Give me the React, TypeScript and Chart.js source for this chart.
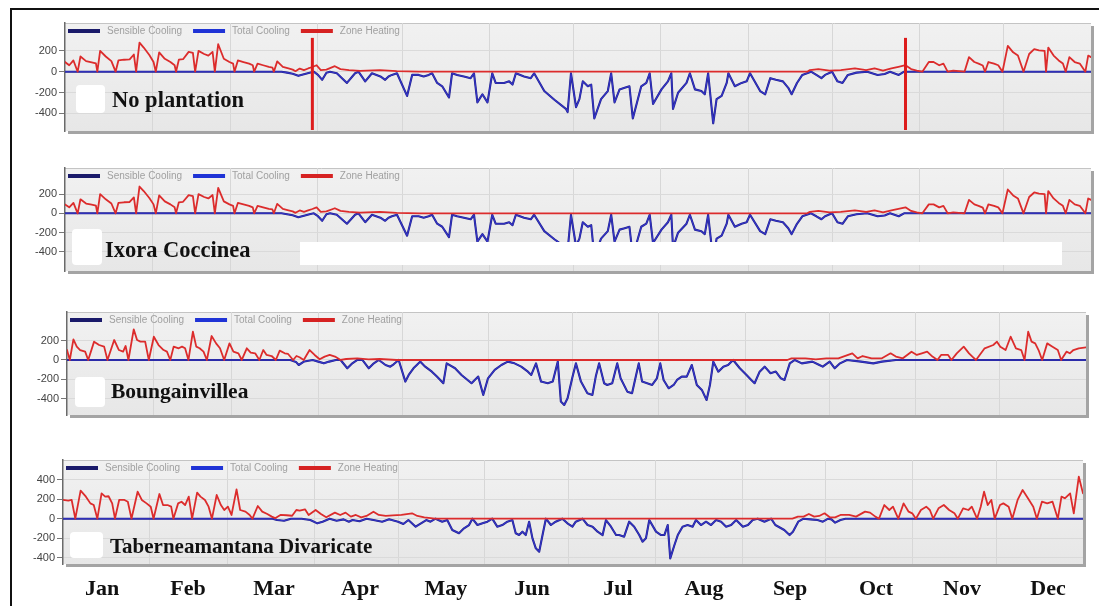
import React, { useEffect, useRef } from "react";
import { Chart, registerables } from "chart.js";

Chart.register(...registerables);

type Pt = [number, number];

// ---------- labels / ticks ----------
const months = ["Jan", "Feb", "Mar", "Apr", "May", "Jun", "Jul", "Aug", "Sep", "Oct", "Nov", "Dec"];
const monthStartDays = [31, 59, 90, 120, 151, 181, 212, 243, 273, 304, 334];
const seriesNames = ["Sensible Cooling", "Total Cooling", "Zone Heating"];
const yTicksSmall = [-400, -200, 0, 200];
const yTicksLarge = [-400, -200, 0, 200, 400];
const dstMarkerDays = [88, 299];
const dstMarkerTop = 325;
const panelTitles = ["No plantation", "Ixora Coccinea", "Boungainvillea", "Taberneamantana Divaricate"];

// ---------- data: [day of year, kWh] ----------
const noPlantationHeating: Pt[] = [
  [0, 93], [1.5, 62], [3, 108], [4.5, 0], [5.5, 146], [7.5, 102], [9.5, 90], [11, 80], [11.5, 0],
  [12.5, 200], [14.5, 146], [16.5, 102], [18, 0], [19, 108], [21, 115], [23, 118], [24.5, 165], [25.3, 0],
  [26.5, 279], [28, 232], [30, 160], [31.5, 93], [32.3, 0], [33.5, 186], [35.5, 124], [37.5, 93], [39, 62], [39.5, 0],
  [40.5, 115], [42, 120], [44, 190], [45.5, 180], [46.3, 0], [47.5, 200], [49.5, 170], [51, 155], [52.5, 190], [53.3, 0],
  [54.5, 264], [56.5, 124], [58.5, 93], [59.8, 78], [60.3, 0], [61.5, 108], [63.5, 93], [65.5, 78], [66.8, 62], [67.3, 0],
  [68.5, 78], [70.5, 62], [72.5, 46], [73.8, 40], [74.3, 0], [75.5, 99], [77.5, 46], [79.5, 31], [81, 20], [82, 5],
  [83.5, 30], [85, 15], [86.5, 31], [88, 45], [89.5, 62], [91, 15], [93, 20], [96, 53], [98, 25], [101, 15],
  [105, 8], [112, 15], [118, 5], [126, 0], [264, 0], [265, 15], [268, 25], [272, 10], [276, 15], [281, 31],
  [285, 15], [288, 31], [291, 10], [294, 31], [296.5, 46], [299, 62], [301, 25], [303, 10], [305, 0],
  [307.3, 93], [309, 93], [311, 62], [312.5, 78], [314, 0], [316, 10], [318, 5], [320, 0],
  [321.6, 140], [323.5, 93], [325, 78], [326.5, 60], [327.3, 0], [328.5, 93], [330.5, 78], [332, 62], [333.5, 0],
  [335.4, 248], [337.3, 186], [339, 155], [341, 0], [343, 170], [344.8, 217], [346.5, 205], [348.5, 200], [349, 0],
  [349.8, 232], [351.7, 155], [353.5, 108], [355, 78], [356, 0], [357.3, 140], [359.2, 93], [361, 78], [363, 0],
  [364, 155], [365, 140],
];
const noPlantationTotalCooling: Pt[] = [
  [0, 0], [77, 0], [79, -9], [81, -20], [83, -40], [85, -25], [87, -10], [88.5, 0], [90, -30], [91.5, -78],
  [93, -10], [94.3, 0], [96.7, -15], [100.3, -108], [103.2, -15], [104.4, 0], [106.8, -93], [109.2, -15],
  [112.2, -46], [113.9, -78], [115.1, -46], [116.3, -31], [118.1, -15], [121.7, -233], [123.5, -31], [125.8, -31],
  [127.6, -46], [129.4, -31], [130.6, -15], [132.4, -108], [134.2, -140], [136.6, -248], [137.7, -15], [139.5, -31],
  [141.9, -46], [144.3, -62], [145.5, -15], [146.7, -295], [148.5, -217], [150.3, -295], [152, -15], [153.2, -108],
  [156.2, -108], [158, -93], [159.2, -124], [160.4, -15], [163.3, -46], [165.7, -62], [166.9, -15], [170.5, -186],
  [174.1, -270], [178.2, -357], [178.8, -388], [180, -15], [181.8, -341], [183, -264], [184.2, -93], [186, -140],
  [187.2, -124], [188.3, -450], [190.7, -264], [193.1, -186], [194.3, -15], [195.5, -295], [197.3, -170],
  [199.1, -155], [200.8, -140], [202, -450], [205, -140], [206.8, -108], [208, -15], [209.2, -310], [212.2, -170],
  [214.5, -93], [215.7, -15], [216.3, -357], [218.1, -202], [221.1, -108], [222.3, -15], [224.1, -170],
  [226.4, -186], [227.6, -217], [228.8, -15], [230.6, -496], [231.8, -264], [233.6, -233], [235.4, -108],
  [236, -15], [238.3, -140], [240.7, -108], [242.5, -93], [243.7, -15], [247.3, -186], [249.1, -217],
  [250.9, -62], [252.9, -78], [255.4, -93], [257.3, -155], [258.5, -217], [260.4, -109], [262.3, -31],
  [265.4, 0], [267.3, -31], [269.1, -62], [270.4, -31], [272.9, 0], [274.8, -93], [276.6, -109], [278.5, -31],
  [281.6, -9], [285.4, 0], [289.1, -31], [291.6, -22], [293.5, 0], [296.6, -31], [298.5, 0], [365, 0],
];
// sensible and total cooling lines lie on top of each other in the picture
const noPlantationSensibleCooling: Pt[] = noPlantationTotalCooling;

// Ixora Coccinea panel reads identically to the first one
const ixoraHeating: Pt[] = noPlantationHeating;
const ixoraTotalCooling: Pt[] = noPlantationTotalCooling;
const ixoraSensibleCooling: Pt[] = noPlantationTotalCooling;

const bougainvilleaHeating: Pt[] = [
  [0, 103], [1, 0], [2.3, 214], [3.5, 138], [4.7, 103], [6.5, 86], [7.6, 0], [9.7, 190], [11.5, 155], [13.3, 138],
  [14.5, 0], [16.9, 207], [18.6, 103], [20.1, 86], [21, 145], [22, 0], [23.9, 317], [25.1, 207], [26.3, 190],
  [28, 190], [29.3, 0], [31.1, 241], [32.8, 155], [34.6, 103], [35.8, 86], [37, 0], [38.2, 138], [40, 121],
  [41.2, 138], [42.3, 121], [43.5, 0], [45.1, 293], [46.3, 138], [47.5, 121], [48.9, 86], [50.1, 0], [51.8, 248],
  [53.4, 172], [54.8, 121], [56.3, 0], [58.2, 172], [59.6, 86], [61.4, 69], [62.6, 0], [64.4, 121], [65.8, 76],
  [67.4, 69], [68.9, 0], [70.3, 103], [71.5, 52], [73.3, 41], [74.8, 0], [76.2, 97], [78, 69], [79.2, 62], [81, 0],
  [82.2, 41], [83.3, 28], [84.8, 0], [86.9, 103], [88.7, 52], [90.5, 7], [92.3, 35], [94.1, 52], [96, 35], [98, 0],
  [100, 10], [104, 17], [108, 7], [112, 10], [118, 0], [258, 0], [259.5, 17], [264.5, 17], [268.2, 7], [272, 17],
  [276.3, 17], [281.3, 69], [283.2, 17], [285, 41], [288.2, 17], [291.9, 17], [295, 69], [296.9, 35], [299.4, 17],
  [302.5, 86], [304.4, 52], [306.2, 69], [308.1, 86], [310, 35], [311.8, 0], [313.1, 52], [315.6, 52], [316.8, 0],
  [318.7, 69], [321.2, 138], [323.1, 69], [324.3, 35], [325.6, 0], [328.7, 121], [331.8, 155], [333.1, 190],
  [334.3, 138], [336.2, 103], [338, 241], [339.9, 121], [341.8, 103], [343, 0], [344.3, 293], [345.5, 190],
  [346.8, 172], [348, 103], [349.3, 0], [351.1, 172], [353, 138], [354.9, 103], [356.1, 0], [358, 86],
  [359.2, 69], [360.5, 103], [362.4, 121], [365, 130],
];
const bougainvilleaTotalCooling: Pt[] = [
  [0, 0], [80, 0], [82, -20], [83, -52], [85, -15], [88, 0], [90, -17], [92, -35], [93.9, -17], [96.3, 0],
  [98, 0], [100.4, -86], [102.2, -35], [104, 0], [105.8, 0], [108.1, -86], [109.9, -35], [111.7, 0], [114.1, -52],
  [115.8, -69], [117, -45], [118.8, 0], [121.2, -224], [122.4, -155], [124.1, -86], [125.3, -52], [126.5, -17],
  [128.3, -69], [130.7, -121], [132.5, -172], [134.8, -241], [136, -35], [139, -86], [141.3, -155], [144.9, -241],
  [147.3, -172], [149.1, -362], [150.8, -190], [153.2, -103], [155.6, -52], [157.9, -17], [160.3, -35],
  [162.7, -69], [165.1, -121], [166.3, -155], [168, -35], [169.8, -224], [172.2, -241], [174, -224], [175.8, -17],
  [176.9, -431], [178.1, -466], [179.3, -397], [181.1, -172], [182.3, -35], [184.1, -224], [186.4, -345],
  [188.2, -362], [189.4, -172], [190.6, -35], [192.4, -241], [193.5, -259], [195.3, -241], [197.1, -35],
  [198.3, -190], [200.7, -328], [202.4, -345], [203.6, -190], [204.8, -35], [206, -224], [207.8, -241],
  [209.6, -259], [211.3, -190], [212.5, -35], [213.7, -207], [215.5, -293], [217.3, -259], [218.5, -207],
  [220.2, -172], [222, -172], [223.8, -52], [225.6, -259], [227.4, -310], [229.1, -414], [230.3, -259],
  [231.5, -17], [233.3, -121], [235.1, -69], [236.8, -52], [238.6, 0], [241, -86], [243.4, -155], [245.1, -207],
  [246.3, -241], [248.1, -121], [249.9, -69], [252, -138], [253.9, -120], [255.7, -190], [257, -207],
  [258.9, -35], [260.7, 0], [263.2, -35], [267, -17], [269.5, -52], [270.7, -69], [273.2, -17], [275, -86],
  [276.9, -35], [279.4, 0], [284.4, -17], [288.8, -35], [291.9, -17], [296.9, 0], [365, 0],
];
const bougainvilleaSensibleCooling: Pt[] = bougainvilleaTotalCooling;

const taberneHeating: Pt[] = [
  [0, 192], [1.9, 185], [3.1, 192], [4.4, 0], [6.3, 287], [8.2, 226], [9.8, 157], [11, 140], [12.3, 0],
  [13.8, 260], [15.1, 226], [16.3, 230], [17.6, 157], [18.6, 0], [20.1, 192], [22, 192], [23.2, 174], [24.5, 0],
  [26.7, 277], [28.2, 192], [29.9, 157], [31.4, 123], [32.4, 0], [34.5, 253], [35.8, 140], [37.4, 140],
  [38.7, 123], [39.5, 0], [41.2, 157], [42.4, 174], [43.7, 140], [45, 226], [46.2, 0], [48, 267], [49.2, 226],
  [50.8, 192], [52.1, 123], [53.3, 0], [55, 243], [56.5, 140], [57.7, 89], [59, 123], [60.3, 38], [62.1, 301],
  [63.4, 89], [65.3, 72], [66.8, 38], [67.8, 0], [69.7, 130], [71.3, 72], [73.1, 48], [74.7, 21], [75.9, 5],
  [77.8, 38], [80, 35], [82, 30], [83.5, 89], [84.7, 82], [86.6, 96], [87.9, 38], [90.4, 89], [92.3, 48],
  [94.2, 14], [97.3, 62], [99.2, 38], [101.1, 62], [103, 21], [104.8, 38], [106.7, 14], [108.6, 28], [111.1, 72],
  [113, 38], [115.5, 28], [118, 34], [121.1, 38], [124.9, 55], [126.8, 28], [129.3, 14], [133.1, 0], [261, 0],
  [263, 21], [265, 21], [266.9, 48], [268.8, 21], [270.6, 28], [272.5, 55], [274.4, 14], [276.3, 14], [278.2, 38],
  [281.3, 38], [283.8, 21], [287, 72], [288.8, 62], [290.7, 21], [292, 0], [293.9, 140], [295.7, 89], [297, 123],
  [298.9, 0], [300.8, 157], [302.6, 72], [303.9, 55], [305.2, 0], [307, 89], [308.9, 123], [310.2, 89], [311.4, 0],
  [313.3, 106], [315.2, 140], [317.1, 89], [319, 55], [320.2, 0], [322.1, 106], [324, 89], [325.2, 123],
  [327.1, 0], [328.4, 123], [329.6, 277], [330.9, 140], [332.2, 192], [333.4, 0], [335.3, 140], [336.5, 157],
  [338.4, 123], [339.7, 0], [341.6, 192], [343.4, 294], [345.3, 209], [347.2, 123], [348.5, 0], [350.3, 174],
  [352.2, 157], [354.1, 174], [356, 0], [357.3, 226], [358.5, 209], [360.4, 260], [361.7, 55], [363.5, 431],
  [365, 260],
];
const taberneTotalCooling: Pt[] = [
  [0, 0], [75, 0], [76.6, -14], [79.1, -21], [81.6, 0], [85.4, 0], [88.5, -14], [91, -48], [92.9, -31], [95.4, 0],
  [97.9, -21], [100.4, -7], [102.3, -31], [103.6, -14], [106.1, -27], [108.6, 0], [111.1, -14], [114.2, -31],
  [116.7, -7], [119.9, -31], [121.8, -55], [123.6, -14], [126.2, -82], [128.1, -48], [130, -14], [131.5, -31],
  [133.3, 0], [135.7, -31], [137.5, -14], [139.3, -116], [141.7, -150], [143.5, -99], [145.3, -65], [146.5, 0],
  [148.3, -65], [150.1, -48], [151.9, -31], [153.6, 0], [155.4, -82], [157.2, -65], [159, -31], [160.8, -14],
  [162, -150], [163.2, -168], [164.4, -133], [165.6, -168], [166.8, -31], [168, -202], [169.2, -304],
  [170.4, -339], [171.6, -168], [172.8, 0], [174.6, -65], [176.3, -31], [178.7, 0], [180.5, -48], [182.3, -82],
  [183.5, -31], [185.9, 0], [187.7, -65], [189.5, -82], [191.3, -133], [193.1, -168], [194.3, -14], [196.1, -82],
  [197.9, -168], [199, -168], [200.8, -185], [202.6, -31], [204.4, -82], [206.2, -168], [207.4, -236],
  [208.6, -202], [209.8, -14], [212.2, -133], [214, -168], [215.2, -168], [216.4, -65], [217.3, -407],
  [218.8, -270], [220, -168], [221.7, -82], [223.5, -65], [225.3, -82], [226.5, -14], [228.3, -65], [230.1, -31],
  [231.9, -65], [233.7, -14], [235.5, -31], [237.3, -82], [239.1, -65], [240.9, -14], [243.3, -82], [245.1, -65],
  [246.8, -14], [248.6, 0], [251, -31], [253.4, 0], [254.9, -65], [258.1, -116], [260, -168], [261.2, -133],
  [263.1, -31], [265, 0], [267.5, -7], [270, -14], [271.9, -31], [273.8, 0], [275, -7], [276.3, -41],
  [278.2, -14], [280, 0], [365, 0],
];
const taberneSensibleCooling: Pt[] = taberneTotalCooling;

// ---------- layout (pixels) ----------
type PanelCfg = {
  title: string;
  top: number; bottom: number; left: number; right: number;
  yMin: number; yMax: number; ticks: number[];
  heating: Pt[]; total: Pt[]; sensible: Pt[];
  markers: number[];
  labelLeft: number; labelCenter: number; labelSize: number;
  patch: { x: number; y: number; w: number; h: number };
  band?: { x: number; y: number; w: number; h: number };
};

const panels: PanelCfg[] = [
  {
    title: panelTitles[0], top: 23, bottom: 131, left: 65, right: 1091, yMin: -570, yMax: 468, ticks: yTicksSmall,
    heating: noPlantationHeating, total: noPlantationTotalCooling, sensible: noPlantationSensibleCooling,
    markers: dstMarkerDays, labelLeft: 112, labelCenter: 99, labelSize: 22.5, patch: { x: 76, y: 85, w: 29, h: 28 },
  },
  {
    title: panelTitles[1], top: 168, bottom: 271, left: 65, right: 1091, yMin: -601, yMax: 472, ticks: yTicksSmall,
    heating: ixoraHeating, total: ixoraTotalCooling, sensible: ixoraSensibleCooling,
    markers: [], labelLeft: 105, labelCenter: 249, labelSize: 22.5, patch: { x: 72, y: 229, w: 30, h: 36 },
    band: { x: 300, y: 242, w: 762, h: 23 },
  },
  {
    title: panelTitles[2], top: 312, bottom: 415, left: 67, right: 1086, yMin: -570, yMax: 497, ticks: yTicksSmall,
    heating: bougainvilleaHeating, total: bougainvilleaTotalCooling, sensible: bougainvilleaSensibleCooling,
    markers: [], labelLeft: 111, labelCenter: 391, labelSize: 21.5, patch: { x: 75, y: 377, w: 30, h: 30 },
  },
  {
    title: panelTitles[3], top: 460, bottom: 564, left: 63, right: 1083, yMin: -465, yMax: 602, ticks: yTicksLarge,
    heating: taberneHeating, total: taberneTotalCooling, sensible: taberneSensibleCooling,
    markers: [], labelLeft: 110, labelCenter: 546, labelSize: 21, patch: { x: 70, y: 532, w: 33, h: 26 },
  },
];

const PAD = 14;
const AXIS_W = 45;
const W = 1099;

const toXY = (pts: Pt[]) => pts.map(([x, y]) => ({ x, y }));

function Panel({ cfg }: { cfg: PanelCfg }) {
  const ref = useRef<HTMLCanvasElement | null>(null);
  const h = cfg.bottom - cfg.top + PAD * 2;

  useEffect(() => {
    if (!ref.current) return;
    const framePlugin = {
      id: "frame",
      beforeDraw(chart: any) {
        const { ctx, chartArea: a } = chart;
        ctx.save();
        ctx.fillStyle = "#a4a4a4";
        ctx.fillRect(a.left + 3, a.bottom, a.right - a.left, 3);
        ctx.fillRect(a.right, a.top + 3, 3, a.bottom - a.top);
        const g = ctx.createLinearGradient(0, a.top, 0, a.bottom);
        g.addColorStop(0, "#f1f1f1");
        g.addColorStop(1, "#e7e7e7");
        ctx.fillStyle = g;
        ctx.fillRect(a.left, a.top, a.right - a.left, a.bottom - a.top);
        ctx.strokeStyle = "#c4c4c4";
        ctx.lineWidth = 1;
        ctx.beginPath();
        ctx.moveTo(a.left, a.top + 0.5);
        ctx.lineTo(a.right, a.top + 0.5);
        ctx.stroke();
        ctx.restore();
      },
    };
    const legendPlugin = {
      id: "insideLegend",
      afterDraw(chart: any) {
        const { ctx, chartArea: a } = chart;
        ctx.save();
        ctx.font = '10px "Liberation Sans", Arial, sans-serif';
        ctx.textBaseline = "middle";
        let x = a.left + 3;
        const y = a.top + 8;
        chart.data.datasets.forEach((ds: any) => {
          ctx.fillStyle = ds.legendColor;
          ctx.fillRect(x, y - 2, 32, 4);
          x += 39;
          ctx.fillStyle = "#a0a0a0";
          ctx.fillText(ds.label, x, y);
          x += ctx.measureText(ds.label).width + 11;
        });
        ctx.restore();
      },
    };
    const markerPlugin = {
      id: "dstMarkers",
      afterDatasetsDraw(chart: any) {
        const { ctx, chartArea: a, scales } = chart;
        ctx.save();
        ctx.strokeStyle = "#dd1c1c";
        ctx.lineWidth = 3;
        cfg.markers.forEach((d) => {
          const x = scales.x.getPixelForValue(d);
          ctx.beginPath();
          ctx.moveTo(x, scales.y.getPixelForValue(dstMarkerTop));
          ctx.lineTo(x, a.bottom - 1);
          ctx.stroke();
        });
        ctx.restore();
      },
    };

    const lineStyle = { pointRadius: 0, tension: 0, borderJoinStyle: "round", borderCapStyle: "round" };

    const chart = new Chart(ref.current, {
      type: "line",
      data: {
        datasets: [
          {
            label: seriesNames[0], data: toXY(cfg.sensible), borderColor: "#22228a", legendColor: "#1a1a6a",
            borderWidth: 2.1, order: 2, ...lineStyle,
          } as any,
          {
            label: seriesNames[1], data: toXY(cfg.total), borderColor: "#3535c8", legendColor: "#1f33d6",
            borderWidth: 1.1, order: 1, ...lineStyle,
          } as any,
          {
            label: seriesNames[2], data: toXY(cfg.heating), borderColor: "#dc2c2c", legendColor: "#d62222",
            borderWidth: 1.8, order: 0, ...lineStyle,
          } as any,
        ],
      },
      options: {
        animation: false,
        responsive: false,
        devicePixelRatio: 1,
        events: [],
        layout: { padding: { top: PAD, bottom: PAD, left: cfg.left - AXIS_W, right: W - cfg.right } },
        plugins: { legend: { display: false }, tooltip: { enabled: false } },
        scales: {
          x: {
            type: "linear", min: 0, max: 365,
            afterBuildTicks: (axis: any) => { axis.ticks = monthStartDays.map((v) => ({ value: v })); },
            afterFit: (axis: any) => { axis.height = 0; },
            ticks: { display: false },
            grid: { color: "#d7d7d7", drawTicks: false },
            border: { display: false },
          },
          y: {
            min: cfg.yMin, max: cfg.yMax,
            afterBuildTicks: (axis: any) => { axis.ticks = cfg.ticks.map((v) => ({ value: v })); },
            afterFit: (axis: any) => { axis.width = AXIS_W; },
            ticks: {
              autoSkip: false, color: "#444", padding: 2,
              font: { family: '"Liberation Sans", Arial, sans-serif', size: 11 },
              callback: (v: any) => String(v),
            },
            grid: { color: "#dadada", tickColor: "#777", tickLength: 6 },
            border: { color: "#6a6a6a", width: 1.5 },
          },
        },
      } as any,
      plugins: [framePlugin, legendPlugin, markerPlugin],
    });
    return () => chart.destroy();
  }, []);

  return (
    <>
      <canvas
        ref={ref}
        width={W}
        height={h}
        style={{ position: "absolute", left: 0, top: cfg.top - PAD, width: W, height: h }}
      />
      {cfg.band && (
        <div style={{ position: "absolute", left: cfg.band.x, top: cfg.band.y, width: cfg.band.w, height: cfg.band.h, background: "#fff" }} />
      )}
      <div style={{ position: "absolute", left: cfg.patch.x, top: cfg.patch.y, width: cfg.patch.w, height: cfg.patch.h, background: "#fff", borderRadius: 4 }} />
      <div
        style={{
          position: "absolute", left: cfg.labelLeft, top: cfg.labelCenter - 12, height: 24, lineHeight: "24px",
          font: `bold ${cfg.labelSize}px "Liberation Serif", "Times New Roman", serif`, color: "#111", whiteSpace: "nowrap",
        }}
      >
        {cfg.title}
      </div>
    </>
  );
}

export default function App() {
  return (
    <div style={{ position: "absolute", left: 0, top: 0, width: W, height: 606, background: "#fff", overflow: "hidden" }}>
      <div style={{ position: "absolute", left: 10, top: 8, width: 1200, height: 700, borderTop: "2px solid #111", borderLeft: "2px solid #111" }} />
      {panels.map((p, i) => (
        <Panel key={i} cfg={p} />
      ))}
      {months.map((m, i) => (
        <div
          key={m}
          style={{
            position: "absolute", left: 102 + i * 86 - 30, width: 60, top: 575, height: 24, lineHeight: "24px",
            textAlign: "center", font: 'bold 22px "Liberation Serif", "Times New Roman", serif', color: "#111",
          }}
        >
          {m}
        </div>
      ))}
    </div>
  );
}
